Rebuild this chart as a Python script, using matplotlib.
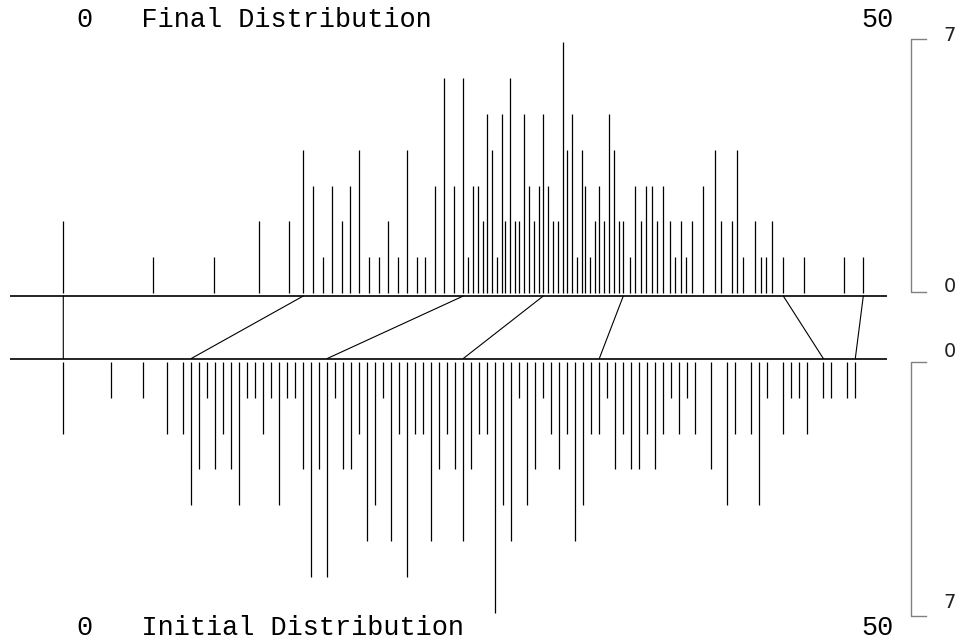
import matplotlib
matplotlib.use("Agg")
import matplotlib.pyplot as plt
from matplotlib.patches import ConnectionPatch

# final distribution (top): value and count
final_x = [0, 5.6, 9.4, 12.2, 14.1, 15.0, 15.6, 16.2, 16.8, 17.4, 17.9, 18.5,
           19.1, 19.7, 20.3, 20.9, 21.5, 22.1, 22.6, 23.2, 23.8, 24.4, 25.0,
           25.3, 25.6, 25.9, 26.2, 26.5, 26.8, 27.1, 27.4, 27.6, 27.9, 28.2,
           28.5, 28.8, 29.1, 29.4, 29.7, 30.0, 30.3, 30.6, 30.9, 31.2, 31.5,
           31.8, 32.1, 32.4, 32.6, 32.9, 33.2, 33.5, 33.8, 34.1, 34.4, 34.7,
           35.0, 35.4, 35.7, 36.1, 36.4, 36.8, 37.1, 37.5, 37.9, 38.2, 38.6,
           38.9, 39.3, 40.0, 40.7, 41.1, 41.8, 42.1, 42.5, 43.2, 43.6, 43.9,
           44.3, 45.0, 46.3, 48.8, 50.0]
final_n = [2, 1, 1, 2, 2, 4, 3, 1, 3, 2, 3, 4,
           1, 1, 2, 1, 4, 1, 1, 3, 6, 3, 6,
           1, 3, 3, 2, 5, 4, 1, 5, 2, 6, 2,
           2, 5, 3, 2, 3, 5, 3, 2, 2, 7, 4,
           5, 1, 4, 3, 1, 2, 3, 2, 5, 4, 2,
           2, 1, 3, 2, 3, 3, 2, 3, 2, 1, 2,
           1, 2, 3, 4, 2, 2, 4, 1, 2, 1, 1,
           2, 1, 1, 1, 1]

# initial distribution (bottom): value and count
init_x = [0, 3, 5, 6.5, 7.5, 8, 8.5, 9, 9.5, 10, 10.5, 11, 11.5, 12, 12.5,
          13, 13.5, 14, 14.5, 15, 15.5, 16, 16.5, 17, 17.5, 18, 18.5, 19,
          19.5, 20, 20.5, 21, 21.5, 22, 22.5, 23, 23.5, 24, 24.5, 25, 25.5,
          26, 26.5, 27, 27.5, 28, 28.5, 29, 29.5, 30, 30.5, 31, 31.5, 32,
          32.5, 33, 33.5, 34, 34.5, 35, 35.5, 36, 36.5, 37, 37.5, 38, 38.5,
          39, 39.5, 40.5, 41.5, 42, 43, 43.5, 44, 45, 45.5, 46, 46.5, 47.5,
          48, 49, 49.5]
init_n = [2, 1, 1, 2, 2, 4, 3, 1, 3, 2, 3, 4, 1, 1, 2,
          1, 4, 1, 1, 3, 6, 3, 6, 1, 3, 3, 2, 5,
          4, 1, 5, 2, 6, 2, 2, 5, 3, 2, 3, 5, 3,
          2, 2, 7, 4, 5, 1, 4, 3, 1, 2, 3, 2, 5,
          4, 2, 2, 1, 3, 2, 3, 3, 2, 3, 2, 1, 2,
          1, 2, 3, 4, 2, 2, 4, 1, 2, 1, 1, 2, 1,
          1, 1, 1]

# matching ranks between the two distributions
link_final = [0, 15, 25, 30, 35, 45, 50]
link_init = [0, 8, 16.5, 25, 33.5, 47.5, 49.5]

W, H = 960, 641
PX = 16.0      # pixels per x unit
X0 = 63.3      # pixel of x = 0
UY = 35.8      # pixels per count
SPLIT = 327    # pixel row between the two panels

fig = plt.figure(figsize=(W / 100, H / 100), dpi=100)
xlim = (-X0 / PX, (W - X0) / PX)

ax_top = fig.add_axes([0, 1 - SPLIT / H, 1, SPLIT / H])
ax_top.set_xlim(xlim)
ax_top.set_ylim(-(SPLIT - 293) / UY, 293 / UY)
ax_bot = fig.add_axes([0, 0, 1, (H - SPLIT) / H])
ax_bot.set_xlim(xlim)
ax_bot.set_ylim((H - 362) / UY, -(362 - SPLIT) / UY)
for ax in (ax_top, ax_bot):
    ax.axis("off")

ymax = max(max(final_n), max(init_n))
x_left, x_right = -3.33, 51.5
base_top = -3 / UY
base_bot = -3.5 / UY

# spikes
ax_top.vlines(final_x, 0, final_n, color="black", lw=0.9)
ax_bot.vlines(init_x, 0, init_n, color="black", lw=0.9)
ax_top.hlines(base_top, x_left, x_right, color="black", lw=1.2)
ax_bot.hlines(base_bot, x_left, x_right, color="black", lw=1.2)

# connectors
for xf, xi in zip(link_final, link_init):
    con = ConnectionPatch(xyA=(xf, base_top), coordsA=ax_top.transData,
                          xyB=(xi, base_bot), coordsB=ax_bot.transData,
                          color="black", lw=0.8)
    fig.add_artist(con)

# count scales on the right
bx, tx, lx = 52.98, 53.92, 55.42
gray = "#808080"
ax_top.plot([tx, bx, bx, tx], [ymax + 0.1, ymax + 0.1, 0.02, 0.02], color=gray, lw=1.0)
ax_bot.plot([tx, bx, bx, tx], [-0.01, -0.01, ymax + 0.1, ymax + 0.1], color=gray, lw=1.0)
ax_top.text(lx, ymax + 0.2, str(ymax), ha="center", va="center", fontsize=14, color="#222222")
ax_top.text(lx, 0.18, "0", ha="center", va="center", fontsize=14, color="#222222")
ax_bot.text(lx, -0.3, "0", ha="center", va="center", fontsize=14, color="#222222")
ax_bot.text(lx, ymax - 0.27, str(ymax), ha="center", va="center", fontsize=14, color="#222222")

# titles
mono = dict(family="Liberation Mono", fontsize=19.4, color="black", va="baseline", ha="left")
fig.text(77 / W, 1 - 27 / H, "0   Final Distribution", **mono)
fig.text(861 / W, 1 - 27 / H, "50", **mono)
fig.text(77 / W, 1 - 635 / H, "0   Initial Distribution", **mono)
fig.text(861 / W, 1 - 635 / H, "50", **mono)

fig.savefig("out.png", dpi=100)
